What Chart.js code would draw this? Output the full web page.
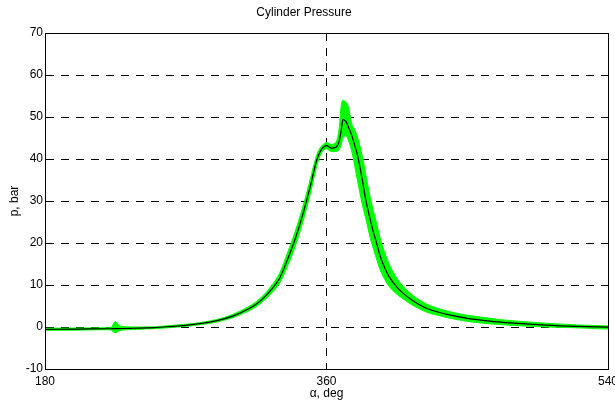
<!DOCTYPE html>
<html>
<head>
<meta charset="utf-8">
<script src="https://cdn.jsdelivr.net/npm/chart.js@4"></script>
<style>
  html, body { margin: 0; padding: 0; background: #fff; }
  #wrap { width: 615px; height: 403px; }
</style>
</head>
<body>
<div id="wrap"><canvas id="pressureChart" width="615" height="403"></canvas></div>
<script>
// crank angle samples, deg
const angles = [180, 200, 220, 222, 225, 227, 230, 236, 245, 250, 260, 270, 280, 290, 300, 310, 315, 320, 325, 330, 335, 340, 345, 350, 352, 354, 356, 358, 360, 363, 366, 368, 369.5, 370.5, 372.5, 374, 376, 378, 380, 383, 385, 388, 390, 392, 394, 396, 400, 405, 410, 415, 420, 425, 430, 440, 450, 460, 470, 480, 500, 520, 540];
// mean cylinder pressure, bar
const pMean = [-0.55, -0.5, -0.42, -0.42, -0.4, -0.38, -0.36, -0.3, -0.2, -0.15, 0.1, 0.4, 0.85, 1.5, 2.6, 4.3, 5.4, 7.0, 9.0, 11.6, 16, 21, 27, 34, 37.2, 40, 41.8, 42.8, 43.2, 42.6, 42.8, 44, 47, 49.4, 48.9, 47.6, 45.8, 43.3, 40.6, 34.8, 30.5, 25.5, 22.6, 20, 17.3, 15.2, 12, 9.5, 7.7, 6.3, 5.2, 4.3, 3.7, 2.75, 2.05, 1.6, 1.2, 0.9, 0.45, 0.15, -0.05];
// cycle scatter band, upper and lower edges, bar
const pUpper = [-0.3, -0.25, -0.18, -0.15, 1.3, 0.5, 0.1, 0.0, 0.0, 0.05, 0.35, 0.65, 1.1, 1.8, 3.0, 4.8, 6.0, 7.7, 9.9, 12.8, 17.6, 22.8, 28.8, 35.8, 38.8, 41.2, 42.7, 43.5, 43.9, 43.5, 44.0, 47, 53, 54, 53.5, 52.5, 48.5, 47, 45, 40.5, 36.5, 30.8, 27.6, 24.8, 21.6, 19, 15, 11.6, 9.3, 7.6, 6.3, 5.3, 4.6, 3.55, 2.8, 2.3, 1.8, 1.45, 0.9, 0.5, 0.25];
const pLower = [-0.8, -0.75, -0.65, -0.7, -1.4, -1.0, -0.7, -0.6, -0.45, -0.4, -0.15, 0.15, 0.6, 1.2, 2.2, 3.8, 4.8, 6.3, 8.1, 10.4, 14.4, 19.2, 25.2, 32.2, 35.5, 38.6, 40.8, 42.0, 42.4, 41.8, 41.8, 42.2, 43.5, 45, 45.5, 44.5, 42, 38.5, 34.5, 29, 26, 21.2, 18.6, 16.2, 13.9, 12.2, 9.7, 7.8, 6.4, 5.2, 4.2, 3.4, 2.9, 2.0, 1.35, 0.9, 0.6, 0.35, 0.0, -0.2, -0.5];

const xTicks = [180, 360, 540];

function toPoints(ys) {
    return angles.map((a, i) => ({ x: a, y: ys[i] }));
}

// frame round the plot area
const boxPlugin = {
    id: 'box',
    afterDraw(chart) {
        const a = chart.chartArea;
        const ctx = chart.ctx;
        ctx.save();
        ctx.strokeStyle = '#000';
        ctx.lineWidth = 1;
        ctx.strokeRect(a.left + 0.5, a.top + 0.5, a.right - a.left, a.bottom - a.top);
        ctx.restore();
    }
};

const font = { family: 'Liberation Sans, Arial, sans-serif', size: 12 };

new Chart(document.getElementById('pressureChart').getContext('2d'), {
    type: 'line',
    data: {
        datasets: [
            {
                label: 'mean',
                data: toPoints(pMean),
                borderColor: '#000',
                borderWidth: 1.2,
                pointRadius: 0,
                fill: false,
                cubicInterpolationMode: 'monotone'
            },
            {
                label: 'upper',
                data: toPoints(pUpper),
                borderColor: 'rgb(0,255,0)',
                backgroundColor: 'rgb(0,255,0)',
                borderWidth: 1,
                pointRadius: 0,
                fill: '+1',
                cubicInterpolationMode: 'monotone'
            },
            {
                label: 'lower',
                data: toPoints(pLower),
                borderColor: 'rgb(0,255,0)',
                borderWidth: 1,
                pointRadius: 0,
                fill: false,
                cubicInterpolationMode: 'monotone'
            }
        ]
    },
    options: {
        responsive: false,
        animation: false,
        layout: { padding: { left: 0, right: 7, top: 0, bottom: 0 } },
        plugins: {
            legend: { display: false },
            tooltip: { enabled: false },
            title: {
                display: true,
                text: 'Cylinder Pressure',
                color: '#000',
                font: { ...font, weight: 'normal' },
                padding: { top: 5, bottom: 13.6 }
            }
        },
        scales: {
            x: {
                type: 'linear',
                min: 180,
                max: 540,
                afterBuildTicks(scale) {
                    scale.ticks = xTicks.map(v => ({ value: v }));
                },
                afterFit(scale) {
                    scale.height = 34;
                    scale.paddingLeft = 0;
                    scale.paddingRight = 0;
                },
                ticks: { color: '#000', font, padding: 5, maxRotation: 0, autoSkip: false },
                grid: { color: '#000', lineWidth: 1, drawTicks: false },
                border: { display: true, color: '#000', width: 1, dash: [8, 7] },
                title: { display: true, text: 'α, deg', color: '#000', font, padding: { top: 2, bottom: 2 } }
            },
            y: {
                min: -10,
                max: 70,
                afterFit(scale) {
                    scale.width = 45;
                    scale.paddingTop = 0;
                    scale.paddingBottom = 0;
                },
                ticks: { color: '#000', font, padding: 2, stepSize: 10 },
                grid: { color: '#000', lineWidth: 1, drawTicks: false },
                border: { display: true, color: '#000', width: 1, dash: [8, 7] },
                title: { display: true, text: 'p, bar', color: '#000', font, padding: { top: 7, bottom: 4 } }
            }
        }
    },
    plugins: [boxPlugin]
});
</script>
</body>
</html>
